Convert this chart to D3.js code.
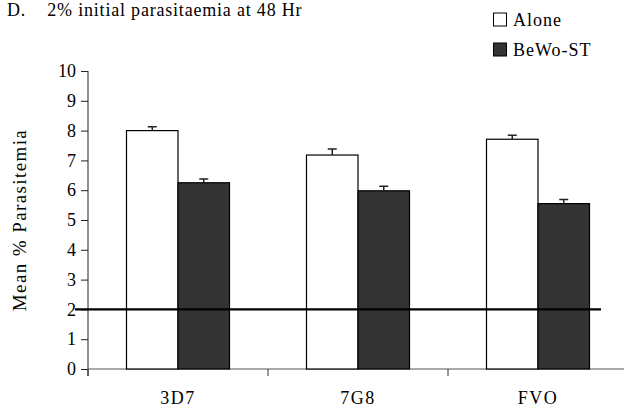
<!DOCTYPE html>
<html>
<head>
<meta charset="utf-8">
<script src="https://cdn.jsdelivr.net/npm/d3@7"></script>
<style>
  body { margin: 0; background: #fff; }
  svg { display: block; font-family: "Liberation Serif", "Times New Roman", serif; }
  .axis text { font-size: 18px; fill: #000; font-family: "Liberation Serif", serif; }
  .axis path, .axis line { stroke: #222; }
</style>
</head>
<body>
<div id="chart"></div>
<script>
const categories = ["3D7", "7G8", "FVO"];
const series = ["Alone", "BeWo-ST"];
const aloneValues = [8.0, 7.18, 7.71];
const aloneErrors = [0.13, 0.2, 0.13];
const bewoValues = [6.25, 5.98, 5.55];
const bewoErrors = [0.13, 0.15, 0.14];
const yTicks = [0, 1, 2, 3, 4, 5, 6, 7, 8, 9, 10];
const baseline = 2;

const width = 624, height = 412;
const colors = {"Alone": "#ffffff", "BeWo-ST": "#333333"};

const rows = categories.map((c, i) => ({
  name: c,
  values: [
    {key: "Alone", value: aloneValues[i], err: aloneErrors[i]},
    {key: "BeWo-ST", value: bewoValues[i], err: bewoErrors[i]}
  ]
}));

const svg = d3.select("#chart").append("svg")
  .attr("width", width)
  .attr("height", height);

const x0 = d3.scaleBand().domain(categories).range([88, 628]);
const x1 = d3.scaleBand().domain(series).range([38.5, 141.5]);
const y = d3.scaleLinear().domain([0, 10]).range([369, 71]);

// title
svg.append("text")
  .attr("x", 7).attr("y", 16)
  .attr("font-size", 18)
  .attr("letter-spacing", 0.8)
  .attr("xml:space", "preserve")
  .text("D.    2% initial parasitaemia at 48 Hr");

// y axis
const yAxis = svg.append("g")
  .attr("class", "axis")
  .attr("transform", "translate(88,0)")
  .call(d3.axisLeft(y).tickValues(yTicks).tickSize(7).tickSizeOuter(0).tickPadding(5));
yAxis.select(".domain").remove();
yAxis.append("line")
  .attr("x1", 0).attr("x2", 0)
  .attr("y1", y(10)).attr("y2", y(0) + 7)
  .attr("stroke", "#222");

// x axis line and boundary ticks
svg.append("line")
  .attr("x1", 88).attr("x2", 624)
  .attr("y1", y(0)).attr("y2", y(0))
  .attr("stroke", "#555");
svg.selectAll(".xtick")
  .data(categories)
  .enter().append("line")
  .attr("x1", d => x0(d)).attr("x2", d => x0(d))
  .attr("y1", y(0)).attr("y2", y(0) + 7)
  .attr("stroke", "#333");

svg.selectAll(".xlabel")
  .data(categories)
  .enter().append("text")
  .attr("x", d => x0(d) + x0.bandwidth() / 2)
  .attr("y", 404)
  .attr("text-anchor", "middle")
  .attr("font-size", 18)
  .attr("letter-spacing", 1.5)
  .text(d => d);

// bars
const groups = svg.selectAll(".grp")
  .data(rows)
  .enter().append("g")
  .attr("transform", d => "translate(" + x0(d.name) + ",0)");

groups.selectAll("rect")
  .data(d => d.values)
  .enter().append("rect")
  .attr("x", d => x1(d.key))
  .attr("y", d => y(d.value))
  .attr("width", x1.bandwidth())
  .attr("height", d => y(0) - y(d.value))
  .attr("fill", d => colors[d.key])
  .attr("stroke", "#000")
  .attr("stroke-width", 1.2);

// error bars
groups.selectAll(".err")
  .data(d => d.values)
  .enter().append("path")
  .attr("d", d => {
    const cx = x1(d.key) + x1.bandwidth() / 2;
    const top = y(d.value + d.err);
    return "M" + cx + "," + y(d.value) + "V" + top + "M" + (cx - 4.5) + "," + top + "H" + (cx + 4.5);
  })
  .attr("stroke", "#222")
  .attr("stroke-width", 1.5)
  .attr("fill", "none");

// reference line at initial parasitaemia
svg.append("line")
  .attr("x1", 75).attr("x2", 601)
  .attr("y1", y(baseline)).attr("y2", y(baseline))
  .attr("stroke", "#000")
  .attr("stroke-width", 2.2);

// y axis label
svg.append("text")
  .attr("transform", "translate(26," + y(5) + ") rotate(-90)")
  .attr("text-anchor", "middle")
  .attr("font-size", 19)
  .attr("letter-spacing", 1.4)
  .text("Mean % Parasitemia");

// legend
const legend = svg.selectAll(".legend")
  .data(series)
  .enter().append("g")
  .attr("transform", (d, i) => "translate(493," + (26 + i * 30) + ")");
legend.append("rect")
  .attr("x", 0.5).attr("y", -13)
  .attr("width", 13).attr("height", 13)
  .attr("fill", d => colors[d])
  .attr("stroke", "#000");
legend.append("text")
  .attr("x", 20).attr("y", 0)
  .attr("font-size", 18)
  .attr("letter-spacing", 1)
  .text(d => d);
</script>
</body>
</html>
